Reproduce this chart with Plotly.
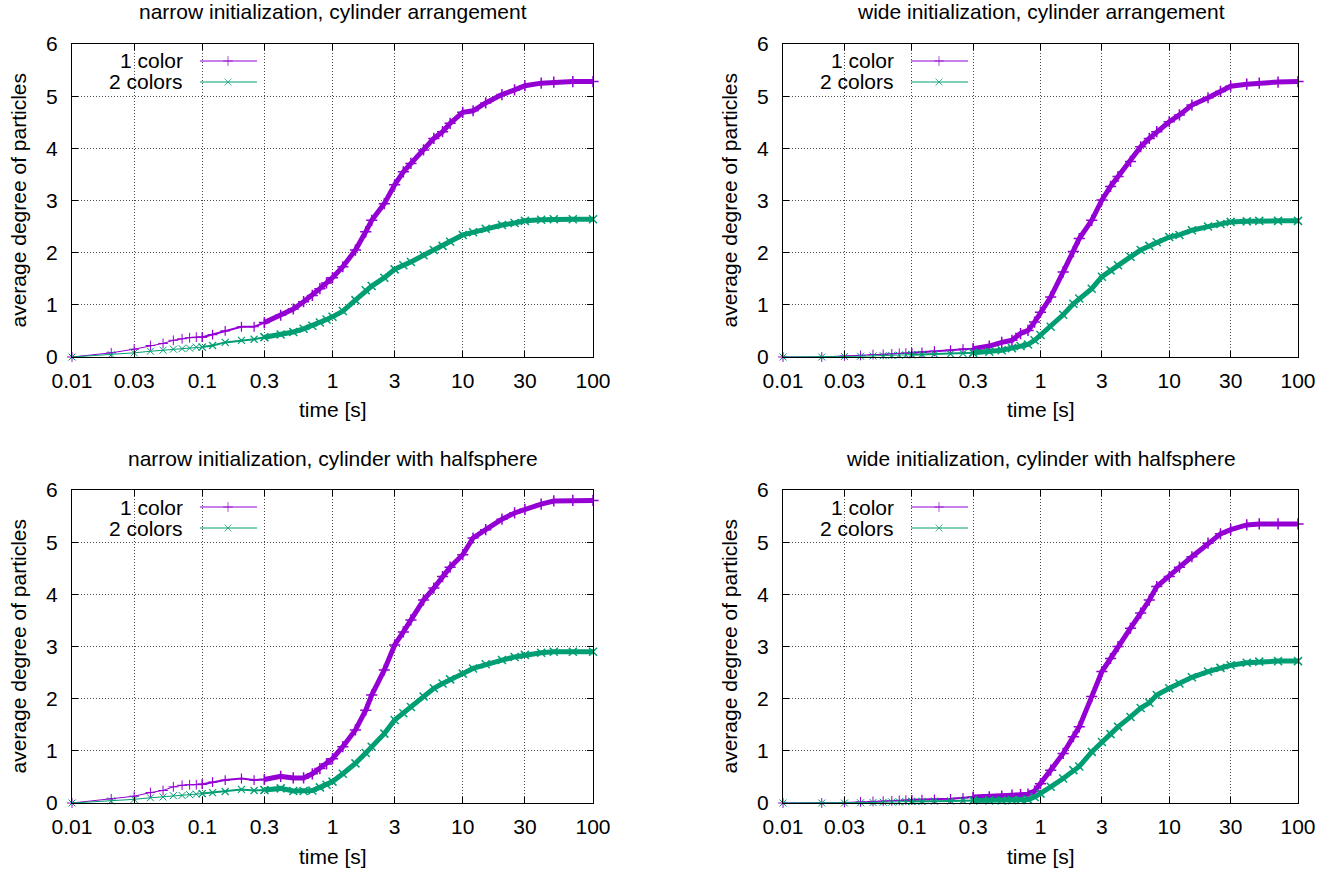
import plotly.graph_objects as go

# ---------------- data ----------------
T = [0.01, 0.02, 0.03, 0.04, 0.05, 0.06, 0.07, 0.08, 0.09, 0.1,
     0.12, 0.15, 0.2, 0.25, 0.3, 0.4, 0.5, 0.6, 0.7, 0.8, 0.9, 1.0,
     1.2, 1.5, 1.8, 2.0, 2.5, 3.0, 3.5, 4.0, 5.0, 6.0, 7.0, 8.0, 10.0,
     12.0, 15.0, 20.0, 25.0, 30.0, 40.0, 50.0, 70.0, 100.0]

# narrow initialization, cylinder arrangement
NARROW_CYL_1 = [0, 0.08, 0.15, 0.22, 0.26, 0.32, 0.35, 0.37, 0.38, 0.38,
                0.43, 0.50, 0.58, 0.58, 0.66, 0.80, 0.92, 1.06, 1.18, 1.31, 1.42, 1.52,
                1.73, 2.05, 2.40, 2.62, 2.94, 3.30, 3.55, 3.71, 3.97, 4.19, 4.32, 4.48, 4.69,
                4.72, 4.87, 5.03, 5.12, 5.20, 5.25, 5.27, 5.28, 5.28]
NARROW_CYL_2 = [0, 0.045, 0.08, 0.11, 0.13, 0.15, 0.16, 0.17, 0.19, 0.19,
                0.22, 0.28, 0.32, 0.34, 0.38, 0.43, 0.48, 0.54, 0.60, 0.66, 0.72, 0.77,
                0.88, 1.09, 1.28, 1.36, 1.52, 1.68, 1.76, 1.82, 1.95, 2.05, 2.13, 2.21, 2.34,
                2.39, 2.46, 2.53, 2.57, 2.61, 2.63, 2.64, 2.64, 2.64]

# wide initialization, cylinder arrangement
WIDE_CYL_1 = [0, 0, 0.02, 0.03, 0.045, 0.05, 0.06, 0.07, 0.075, 0.08,
              0.09, 0.11, 0.13, 0.15, 0.16, 0.21, 0.28, 0.32, 0.45, 0.51, 0.67, 0.86,
              1.15, 1.63, 2.02, 2.27, 2.62, 3.01, 3.27, 3.46, 3.75, 4.03, 4.19, 4.32, 4.51,
              4.64, 4.83, 4.97, 5.09, 5.19, 5.23, 5.25, 5.27, 5.28]
WIDE_CYL_2 = [0, 0, 0.01, 0.015, 0.02, 0.025, 0.03, 0.035, 0.04, 0.045,
              0.05, 0.055, 0.06, 0.07, 0.08, 0.10, 0.13, 0.17, 0.21, 0.24, 0.32, 0.42,
              0.58, 0.81, 1.02, 1.12, 1.31, 1.54, 1.66, 1.76, 1.92, 2.05, 2.13, 2.20, 2.30,
              2.34, 2.43, 2.50, 2.55, 2.59, 2.60, 2.61, 2.61, 2.61]

# narrow initialization, cylinder with halfsphere
NARROW_HS_1 = [0, 0.08, 0.13, 0.20, 0.24, 0.31, 0.34, 0.35, 0.35, 0.36,
               0.40, 0.44, 0.47, 0.44, 0.45, 0.51, 0.48, 0.48, 0.56, 0.66, 0.75, 0.85,
               1.08, 1.40, 1.78, 2.07, 2.55, 3.03, 3.28, 3.51, 3.89, 4.12, 4.34, 4.52, 4.76,
               5.08, 5.24, 5.44, 5.56, 5.63, 5.73, 5.79, 5.80, 5.80]
NARROW_HS_2 = [0, 0.04, 0.07, 0.10, 0.115, 0.14, 0.145, 0.16, 0.17, 0.18,
               0.20, 0.22, 0.26, 0.24, 0.25, 0.28, 0.23, 0.23, 0.24, 0.30, 0.35, 0.41,
               0.56, 0.76, 0.96, 1.08, 1.33, 1.59, 1.72, 1.84, 2.04, 2.20, 2.29, 2.37, 2.48,
               2.58, 2.66, 2.74, 2.80, 2.84, 2.88, 2.90, 2.90, 2.90]

# wide initialization, cylinder with halfsphere
WIDE_HS_1 = [0, 0, 0.01, 0.02, 0.03, 0.035, 0.04, 0.05, 0.055, 0.06,
             0.065, 0.07, 0.08, 0.10, 0.115, 0.12, 0.13, 0.15, 0.16, 0.17, 0.23, 0.37,
             0.63, 0.95, 1.27, 1.46, 2.04, 2.52, 2.77, 3.00, 3.35, 3.64, 3.89, 4.15, 4.34,
             4.52, 4.72, 4.98, 5.16, 5.24, 5.33, 5.35, 5.35, 5.35]
WIDE_HS_2 = [0, 0, 0, 0.005, 0.01, 0.015, 0.02, 0.02, 0.025, 0.03,
             0.03, 0.035, 0.04, 0.045, 0.05, 0.05, 0.05, 0.055, 0.06, 0.065, 0.115, 0.18,
             0.31, 0.47, 0.63, 0.70, 0.98, 1.17, 1.32, 1.46, 1.65, 1.82, 1.92, 2.07, 2.20,
             2.29, 2.41, 2.52, 2.59, 2.64, 2.69, 2.71, 2.72, 2.72]

PANEL_TITLES = ["narrow initialization, cylinder arrangement",
                "wide initialization, cylinder arrangement",
                "narrow initialization, cylinder with halfsphere",
                "wide initialization, cylinder with halfsphere"]
PANEL_DATA = [(NARROW_CYL_1, NARROW_CYL_2), (WIDE_CYL_1, WIDE_CYL_2),
              (NARROW_HS_1, NARROW_HS_2), (WIDE_HS_1, WIDE_HS_2)]
SERIES_NAMES = ["1 color", "2 colors"]
XTICK_VALS = [0.01, 0.03, 0.1, 0.3, 1, 3, 10, 30, 100]
XTICK_TEXT = ["0.01", "0.03", "0.1", "0.3", "1", "3", "10", "30", "100"]
YTICK_VALS = [0, 1, 2, 3, 4, 5, 6]
X_TITLE = "time [s]"
Y_TITLE = "average degree of particles"

# ---------------- style / layout ----------------
W, H = 1340, 874
COLORS = ["#9400D3", "#009E73"]
SYMBOLS = ["cross-thin", "x-thin"]
FONT = "Liberation Sans, Arial, Helvetica, sans-serif"
FS = 21
# sampling density grows with time: markers start to overlap, then merge into a band
SEGMENTS = [(0.01, 0.1, 1.0, 7, 1.0), (0.1, 0.3, 2.0, 7, 1.2), (0.3, 100.0, 5.0, 8, 1.5)]
# (left, right, top, bottom) in screen pixels
PANELS = [(72, 593, 44, 357), (783, 1298, 44, 357),
          (72, 593, 490, 803), (783, 1298, 490, 803)]

fig = go.Figure()
layout = dict(width=W, height=H, margin=dict(l=0, r=0, t=0, b=0, autoexpand=False),
              paper_bgcolor="white", plot_bgcolor="white", showlegend=False,
              font=dict(family=FONT, size=FS, color="black"))
annotations = []


def px(x):
    return x / W


def py(y):
    return 1 - y / H


for i, (l, r, t, b) in enumerate(PANELS):
    n = i + 1
    sfx = "" if n == 1 else str(n)
    on = n + 4
    xd = [px(l), px(r)]
    yd = [py(b), py(t)]
    axstyle = dict(showline=True, linecolor="black", linewidth=1, mirror="ticks",
                   ticks="inside", ticklen=6, tickwidth=1, tickcolor="black",
                   showgrid=True, gridcolor="#4a4a4a", griddash="1px,2px", gridwidth=1,
                   zeroline=False, automargin=False, layer="above traces",
                   tickfont=dict(family=FONT, size=FS, color="black"))
    layout["xaxis" + sfx] = dict(axstyle, domain=xd, anchor="y" + sfx, type="log",
                                 range=[-2, 2], tickvals=XTICK_VALS, ticktext=XTICK_TEXT,
                                 ticklabelstandoff=5)
    layout["yaxis" + sfx] = dict(axstyle, domain=yd, anchor="x" + sfx, range=[0, 6],
                                 tickvals=YTICK_VALS, ticklabelstandoff=9)
    # overlay axes in pixel units for the legend samples
    pw, ph = r - l, b - t
    layout["xaxis%d" % on] = dict(overlaying="x" + sfx, anchor="y%d" % on,
                                  range=[0, pw], visible=False, fixedrange=True,
                                  automargin=False)
    layout["yaxis%d" % on] = dict(overlaying="y" + sfx, anchor="x%d" % on,
                                  range=[ph, 0], visible=False, fixedrange=True,
                                  automargin=False)

    for k in range(2):
        vals = PANEL_DATA[i][k]
        for (t0, t1, lw, ms, mlw) in SEGMENTS:
            a, z = T.index(t0), T.index(t1)
            fig.add_trace(go.Scatter(
                x=T[a:z + 1], y=vals[a:z + 1], mode="lines+markers",
                name=SERIES_NAMES[k], xaxis="x" + sfx, yaxis="y" + sfx,
                cliponaxis=False, line=dict(color=COLORS[k], width=lw),
                marker=dict(symbol=SYMBOLS[k], size=ms, color=COLORS[k],
                            line=dict(color=COLORS[k], width=mlw))))
        ly = 17 + 21 * k
        fig.add_trace(go.Scatter(
            x=[128, 156, 185], y=[ly, ly, ly], mode="lines+markers",
            xaxis="x%d" % on, yaxis="y%d" % on, hoverinfo="skip",
            line=dict(color=COLORS[k], width=1),
            marker=dict(symbol=SYMBOLS[k], size=[0, 7, 0], color=COLORS[k],
                        line=dict(color=COLORS[k], width=1))))
        annotations.append(dict(x=113, y=ly, xref="x%d" % on, yref="y%d" % on,
                                text=SERIES_NAMES[k], showarrow=False,
                                xanchor="right", yanchor="middle",
                                font=dict(family=FONT, size=FS, color="black")))

    cx = (l + r) / 2
    annotations.append(dict(x=px(cx), y=py(t - 32), xref="paper", yref="paper",
                            text=PANEL_TITLES[i], showarrow=False,
                            xanchor="center", yanchor="middle",
                            font=dict(family=FONT, size=FS, color="black")))
    annotations.append(dict(x=px(cx), y=py(b + 53), xref="paper", yref="paper",
                            text=X_TITLE, showarrow=False,
                            xanchor="center", yanchor="middle",
                            font=dict(family=FONT, size=FS, color="black")))
    annotations.append(dict(x=px(l - 54), y=py((t + b) / 2), xref="paper",
                            yref="paper", text=Y_TITLE, showarrow=False, textangle=-90,
                            xanchor="center", yanchor="middle",
                            font=dict(family=FONT, size=FS, color="black")))

layout["annotations"] = annotations
fig.update_layout(**layout)
fig.write_html("out.html", config={"displayModeBar": False},
               post_script="document.body.style.margin='0';"
                           "document.body.style.overflow='hidden';")
